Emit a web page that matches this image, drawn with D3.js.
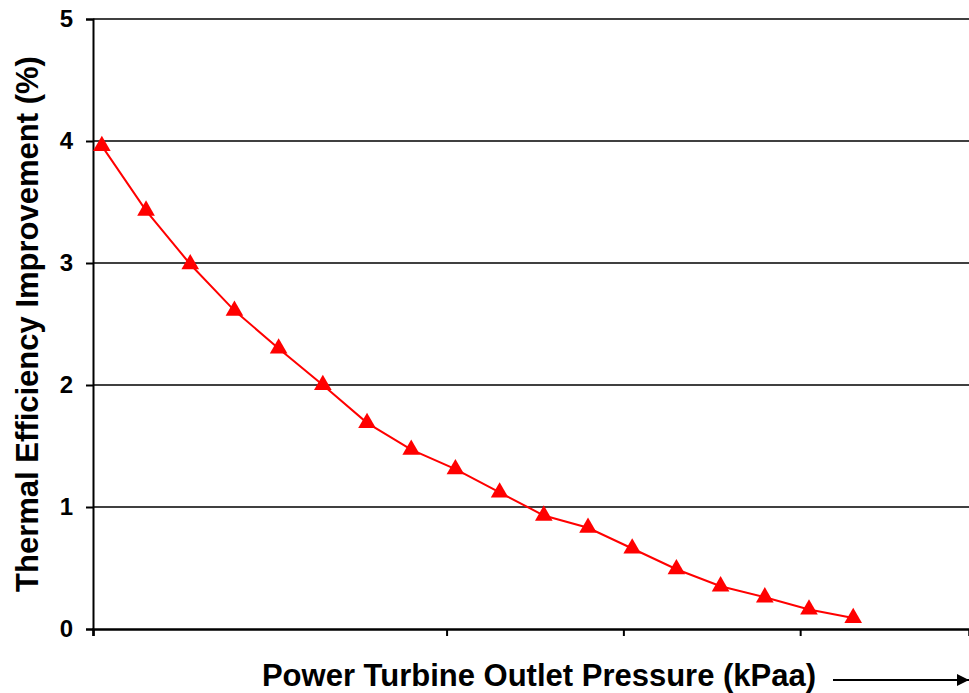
<html>
<head>
    <title>Thermal Efficiency Improvement</title>
    <script src="https://d3js.org/d3.v7.min.js"></script>
    <style>
        body { margin: 0; background: #fff; }
        text { font-family: "Liberation Sans", Arial, sans-serif; font-weight: bold; fill: #000; }
        .grid line { stroke: #000; stroke-width: 1.4px; }
    </style>
</head>
<body>
<svg width="969" height="693"></svg>
<script>

    // data (x in unlabeled pressure steps)
    var pressure = [0.2, 1.2, 2.2, 3.2, 4.2, 5.2, 6.2, 7.2, 8.2,
                    9.2, 10.2, 11.2, 12.2, 13.2, 14.2, 15.2, 16.2, 17.2];
    var improvement = [3.96, 3.43, 2.99, 2.61, 2.30, 2.00, 1.69, 1.47, 1.31,
                       1.12, 0.93, 0.83, 0.66, 0.49, 0.35, 0.26, 0.16, 0.09];
    var yTicks = [0, 1, 2, 3, 4, 5];
    var xTicks = [0, 8, 12, 16];

    var svg = d3.select("svg");

    var plotLeft = 93, plotRight = 969, plotTop = 19, plotBottom = 629;

    var x = d3.scaleLinear().domain([0, 19.82]).range([plotLeft, plotRight]);
    var y = d3.scaleLinear().domain([0, 5]).range([plotBottom, plotTop]);

    // horizontal gridlines
    svg.append("g")
        .attr("class", "grid")
        .selectAll("line")
        .data(yTicks.filter(function(d) { return d > 0; }))
        .enter().append("line")
        .attr("x1", plotLeft)
        .attr("x2", plotRight)
        .attr("y1", function(d) { return y(d); })
        .attr("y2", function(d) { return y(d); });

    // y axis
    var yAxis = svg.append("g")
        .attr("transform", "translate(" + plotLeft + ",0)")
        .call(d3.axisLeft(y).tickValues(yTicks).tickFormat(d3.format("d")).tickSize(7).tickPadding(13));
    yAxis.select(".domain").attr("stroke-width", 2);
    yAxis.selectAll(".tick line").attr("stroke-width", 2);
    yAxis.selectAll("text").style("font-size", "24px");

    // x axis, no labels
    var xAxis = svg.append("g")
        .attr("transform", "translate(0," + plotBottom + ")")
        .call(d3.axisBottom(x).tickValues(xTicks).tickFormat("").tickSizeOuter(0).tickSize(7));
    xAxis.select(".domain").attr("stroke-width", 2.5);
    xAxis.selectAll(".tick line").attr("stroke-width", 2);

    var data = pressure.map(function(p, i) { return {x: p, y: improvement[i]}; });

    var line = d3.line()
        .x(function(d) { return x(d.x); })
        .y(function(d) { return y(d.y); });

    svg.append("path")
        .datum(data)
        .attr("fill", "none")
        .attr("stroke", "#ff0000")
        .attr("stroke-width", 2)
        .attr("d", line);

    var tri = d3.symbol().type(d3.symbolTriangle).size(135);

    svg.append("g")
        .selectAll("path")
        .data(data)
        .enter().append("path")
        .attr("d", tri)
        .attr("fill", "#ff0000")
        .attr("transform", function(d) { return "translate(" + x(d.x) + "," + y(d.y) + ")"; });

    // axis titles
    svg.append("text")
        .attr("transform", "translate(38,324) rotate(-90)")
        .attr("text-anchor", "middle")
        .style("font-size", "31px")
        .text("Thermal Efficiency Improvement (%)");

    svg.append("text")
        .attr("x", 539)
        .attr("y", 686)
        .attr("text-anchor", "middle")
        .style("font-size", "31px")
        .text("Power Turbine Outlet Pressure (kPaa)");

    // arrow after the x title
    svg.append("defs").append("marker")
        .attr("id", "arrow")
        .attr("viewBox", "0 0 10 10")
        .attr("refX", 10).attr("refY", 5)
        .attr("markerWidth", 6).attr("markerHeight", 6)
        .attr("orient", "auto")
        .append("path")
        .attr("d", "M0,0L10,5L0,10z")
        .attr("fill", "#000");

    svg.append("line")
        .attr("x1", 833).attr("x2", 969)
        .attr("y1", 680).attr("y2", 680)
        .attr("stroke", "#000")
        .attr("stroke-width", 2)
        .attr("marker-end", "url(#arrow)");

</script>
</body>
</html>
